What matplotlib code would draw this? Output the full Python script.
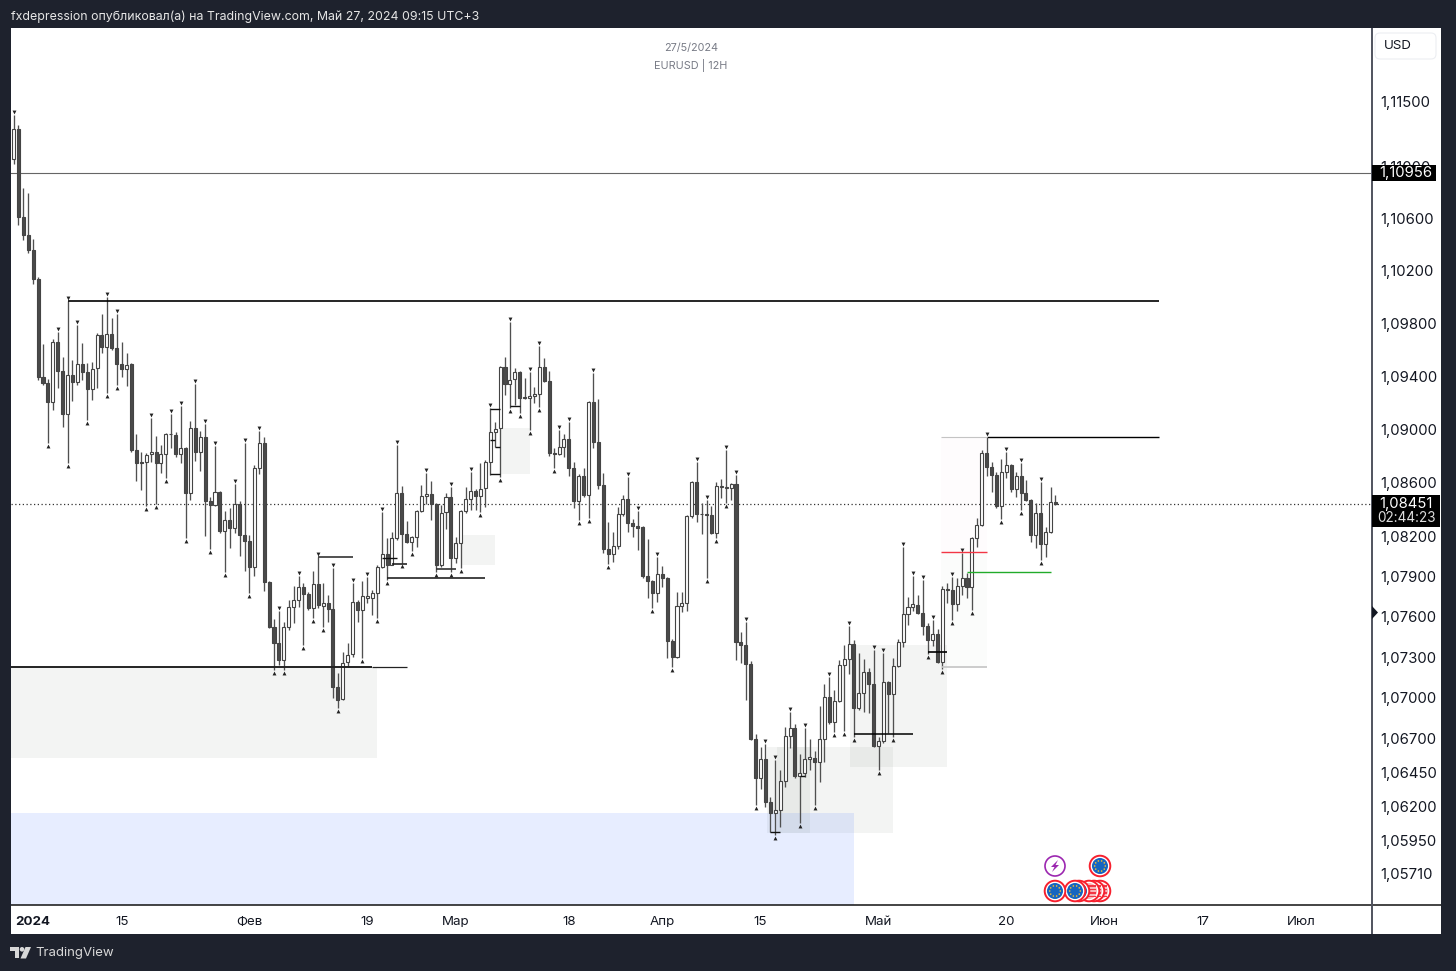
import numpy as np
import matplotlib
matplotlib.use("Agg")
import matplotlib.pyplot as plt
from matplotlib.patches import Rectangle, Circle, Polygon, FancyBboxPatch
from matplotlib.lines import Line2D
from matplotlib.transforms import Affine2D, offset_copy
from matplotlib.ticker import NullFormatter, NullLocator

plt.rcParams['font.family'] = ['Inter', 'DejaVu Sans']

# ---- data: prices in points (1e-5) ----
opens = [111054,111285,110611,110473,110358,110138,109395,109349,109206,109660,
109440,109116,109410,109357,109493,109433,109304,109463,109713,109622,
109720,109614,109493,109455,109493,108844,108754,108754,108814,108829,
108747,108814,108965,108957,108814,108859,108522,109010,108829,108942,
108462,108432,108529,108237,108319,108260,108439,108207,108162,107968,
108709,108897,107856,107522,107403,107277,107522,107670,107722,107819,
107767,107663,107841,107678,107700,107655,107077,106988,107262,107321,
107707,107648,107737,107737,107775,107968,108065,107983,108185,108522,
108215,108155,108192,108387,108499,108514,108439,107983,108379,108492,
108035,108147,108387,108477,108537,108499,108559,108754,108980,109010,
109470,109342,109380,109433,109243,109236,109251,109266,109470,109364,
108822,108814,108866,108927,108709,108462,108649,108507,109206,108904,
108582,108102,108065,108125,108364,108477,108297,108275,108267,107901,
107864,107775,107916,107886,107418,107299,107678,107700,108349,108604,
108367,108362,108357,108222,108567,108559,108559,108589,107410,107388,
107247,106693,106406,106545,106229,106149,106171,106384,106716,106775,
106421,106443,106545,106553,106524,106693,107003,106818,106974,107240,
107284,107396,106922,107033,107188,107099,106642,106679,107114,107025,
107233,107410,107618,107670,107685,107626,107530,107425,107470,107262,
107804,107797,107692,107827,107886,107819,108185,108282,108822,108717,
108657,108424,108679,108732,108552,108649,108522,108469,108207,108372,
108140,108230,108454]
closes = [111285,110611,110473,110358,110138,109395,109349,109206,109660,109440,
109116,109410,109357,109493,109433,109304,109455,109713,109622,109720,
109614,109493,109455,109485,108844,108747,108747,108807,108829,108747,
108814,108965,108968,108814,108859,108522,109010,108829,108942,108462,
108432,108529,108237,108319,108260,108439,108207,108162,107968,108709,
108897,107856,107522,107403,107277,107522,107670,107722,107819,107767,
107663,107841,107685,107700,107655,107077,106981,107255,107314,107707,
107648,107752,107752,107775,107968,108065,107983,108185,108522,108215,
108155,108192,108387,108499,108514,108439,107983,108372,108492,108035,
108147,108387,108477,108537,108499,108552,108754,108980,109003,109470,
109342,109372,109433,109236,109236,109251,109266,109470,109364,108822,
108814,108866,108927,108709,108462,108649,108507,109206,108904,108582,
108102,108065,108125,108364,108477,108297,108275,108260,107901,107864,
107775,107916,107886,107418,107299,107678,107700,108349,108604,108364,
108362,108357,108222,108574,108574,108567,108589,107410,107388,107247,
106693,106406,106545,106229,106149,106171,106384,106716,106775,106421,
106443,106545,106560,106524,106693,107003,106818,106974,107240,107284,
107396,106922,107033,107188,107099,106642,106679,107114,107025,107233,
107410,107618,107670,107692,107626,107530,107425,107470,107262,107804,
107797,107692,107827,107886,107819,108185,108282,108822,108717,108657,
108424,108679,108732,108552,108649,108522,108469,108207,108372,108140,
108230,108454,108439]
highs = [111392,111316,110832,110794,110442,110153,109645,109380,109683,109736,
109546,109970,109523,109788,109652,109500,109508,109728,109872,110001,
109841,109872,109660,109576,109500,108965,108829,108822,109085,108950,
108882,108972,109116,108980,109176,108866,109063,109342,108987,109040,
108492,108874,108537,108387,108409,108589,108462,108897,108207,108732,
108987,108942,107864,107581,107641,107559,107722,107827,107901,107849,
107782,107938,108043,107849,107759,107961,107181,107336,107403,107849,
107722,107864,107893,107797,107983,108379,108185,108230,108882,108574,
108312,108200,108394,108582,108672,108612,108447,108432,108522,108567,
108192,108394,108567,108679,108552,108747,108769,109161,109055,109478,
109546,109811,109463,109440,109387,109433,109319,109629,109538,109440,
108859,108995,108965,109055,108754,108664,108709,109213,109425,109229,
108672,108304,108230,108417,108507,108642,108327,108387,108275,108177,
107871,108043,107976,107893,107433,107782,107782,108357,108612,108754,
108447,108469,108424,108604,108627,108844,108597,108657,107485,107559,
107270,106730,106634,106656,106266,106538,106465,106782,106892,106804,
106583,106775,106693,106605,106936,107099,107151,107055,107277,107388,
107530,107425,107329,107284,107218,107351,106708,107329,107122,107292,
107433,108117,107745,107901,107759,107871,107552,107574,107507,107827,
107849,107893,107886,108073,107923,108192,108334,108844,108942,108754,
108679,108777,108829,108739,108679,108747,108619,108477,108447,108604,
108267,108567,108507]
lows = [111015,110549,110434,110335,110100,109372,109334,108896,109146,109312,
109018,108747,109213,109334,109372,109070,109221,109312,109576,109274,
109599,109334,109395,109327,108829,108612,108544,108424,108754,108439,
108672,108634,108859,108792,108747,108185,108469,108762,108687,108200,
108102,108424,108222,107931,108110,108222,108050,107939,107775,107901,
108664,107790,107515,107203,107240,107203,107500,107552,107670,107388,
107648,107589,107663,107522,107559,106996,106922,106981,107225,107299,
107559,107292,107700,107611,107589,107961,107871,107983,108170,107998,
108147,108088,108117,108379,108439,108319,107931,107968,108252,107931,
107998,107961,108372,108394,108394,108379,108417,108657,108866,108642,
109259,109161,109183,109123,109229,108995,109198,109168,109357,108799,
108709,108807,108792,108649,108409,108319,108492,108334,108859,108552,
108073,107991,108005,108102,108349,108230,108192,108095,107886,107737,
107663,107707,107819,107292,107225,107292,107633,107641,108334,108304,
108215,107886,108215,108185,108484,108447,108469,107277,107255,106981,
106686,106207,106325,106193,106009,105987,106046,106340,106627,106406,
106076,106414,106465,106207,106377,106524,106804,106745,106966,106752,
107173,106708,106907,106892,106885,106634,106465,106664,106738,106708,
107225,107373,107537,107641,107618,107463,107321,107381,107255,107210,
107700,107574,107641,107759,107737,107648,108117,108275,108649,108529,
108409,108327,108634,108529,108492,108394,108462,108155,108110,108020,
108043,108222,108432]

pivot_high_bars = [0,9,11,13,19,21,28,32,34,37,39,41,45,47,50,54,58,62,65,69,72,75,78,84,89,93,97,101,105,
    107,111,113,118,125,127,131,139,141,145,147,149,153,155,158,161,166,170,175,177,181,183,185,187,191,193,198,202,205,209]
pivot_low_bars = [7,11,15,19,21,27,29,31,35,40,43,48,53,55,59,61,63,66,71,74,76,79,81,86,89,91,95,99,101,103,105,107,110,
    115,117,121,130,134,141,143,145,151,155,160,163,167,169,171,176,179,186,189,191,195,201,205,209]

y_ticks = [1.115,1.110,1.106,1.102,1.098,1.094,1.090,1.086,1.082,1.079,1.076,1.073,1.070,1.067,1.0645,1.062,1.0595,1.0571]
x_tick_bars = [4,22,48,72,90,113,132,152,176,202,222,242,262]
x_tick_labels = ['2024','15','Фев','19','Мар','18','Апр','15','Май','20','Июн','17','Июл']

# level lines: (start bar, end bar, price, colour, width)
levels = [
    (-0.5, 72.9, 1.07225, '#222222', 1.4), (72.9, 80.0, 1.07225, '#222222', 0.9),
    (11, 233, 1.09974, '#000000', 1.2), (198, 233, 1.08942, '#000000', 1.0),
    (188.8, 198, 1.08942, '#c4c4c4', 0.8), (62, 69, 1.08043, '#333333', 1.2),
    (76, 96, 1.07887, '#222222', 1.2), (75, 78, 1.08035, '#111111', 1.0),
    (77, 80, 1.07988, '#111111', 1.1), (86, 90, 1.07955, '#333333', 1.2),
    (97, 99, 1.09153, '#111111', 1.0), (97, 99, 1.08664, '#111111', 1.0),
    (98, 99, 1.08866, '#111111', 1.0), (97, 98, 1.08919, '#111111', 1.0),
    (101, 103, 1.09178, '#111111', 1.0), (154, 156, 1.06009, '#111111', 1.0),
    (171, 183, 1.06730, '#000000', 1.1), (186, 190, 1.07338, '#000000', 1.2),
    (160, 161, 1.06424, '#111111', 1.0), (188.8, 198, 1.08082, '#f23645', 1.0),
    (194, 211, 1.07934, '#22ab2a', 1.0), (189, 198, 1.07225, '#c4c4c4', 1.2),
]
# zones: (start bar, end bar, low, high, colour, alpha)
zones = [
    (-0.5, 74, 1.06553, 1.07225, '#5f6b5f', 0.07),
    (99, 105, 1.08664, 1.09010, '#5f6b5f', 0.07),
    (91.3, 98, 1.07983, 1.08207, '#5f6b5f', 0.07),
    (153.3, 162, 1.06002, 1.06634, '#5f6b5f', 0.07),
    (155.3, 179, 1.06002, 1.06634, '#5f6b5f', 0.07),
    (170.2, 190, 1.06487, 1.07388, '#5f6b5f', 0.07),
    (188.8, 198, 1.08082, 1.08942, '#e8b0d0', 0.03),
    (188.8, 198, 1.07225, 1.08082, '#5f6b5f', 0.02),
    (-0.5, 171, 1.05478, 1.06149, '#2962ff', 0.11),
]
last_prices = (1.08440, 1.10945)

W, H = 1456, 971
BG = '#1e222d'
fig = plt.figure(figsize=(W/100, H/100), dpi=100, facecolor=BG)
T = Affine2D().scale(1/W, -1/H).translate(0, 1) + fig.transFigure

ax = fig.add_axes([11/W, (H-905)/H, 1360/W, 877/H], facecolor='white')
ax.set_yscale('log')
ax.set_ylim(1.05478, 1.12064)
ax.set_xlim(-0.51, 276.2)
for s in ax.spines.values():
    s.set_visible(False)

O, Hi, Lo, C = [np.array(a)/1e5 for a in (opens, highs, lows, closes)]
bars = np.arange(len(O))

for x0, x1, lo, hi, col, al in zones:
    ax.add_patch(Rectangle((x0, lo), x1-x0, hi-lo, facecolor=col, alpha=al, lw=0, zorder=1))

ax.axhline(last_prices[1], color='#666666', lw=0.8, zorder=2)
ax.axhline(last_prices[0], color='#333333', lw=0.9, ls=(0, (1, 2)), zorder=2)

ax.vlines(bars, Lo, Hi, color='#505050', lw=0.95, zorder=3)
up = C >= O
for mask, face in ((up, 'white'), (~up, '#4a4a4a')):
    ax.bar(bars[mask], np.abs(C-O)[mask], bottom=np.minimum(O, C)[mask], width=0.62,
           facecolor=face, edgecolor='#444444', lw=0.8, zorder=4)

up_off = offset_copy(ax.transData, fig=fig, y=3, units='dots')
dn_off = offset_copy(ax.transData, fig=fig, y=-3, units='dots')
ax.plot(bars[pivot_high_bars], Hi[pivot_high_bars], ls='', marker='v', ms=2.8, mfc='#222222', mec='none',
        transform=up_off, zorder=5)
ax.plot(bars[pivot_low_bars], Lo[pivot_low_bars], ls='', marker='^', ms=2.8, mfc='#222222', mec='none',
        transform=dn_off, zorder=5)

for x0, x1, p, col, lw in levels:
    ax.plot([x0, x1], [p, p], color=col, lw=lw, solid_capstyle='butt', zorder=5)

ax.yaxis.tick_right()
ax.set_yticks(y_ticks)
ax.set_yticklabels([f"{v:.5f}".replace('.', ',') for v in y_ticks], fontsize=10.7, color='#131722')
ax.yaxis.set_minor_locator(NullLocator())
ax.yaxis.set_minor_formatter(NullFormatter())
ax.tick_params(axis='y', length=0, pad=7)
ax.set_xticks(x_tick_bars)
ax.set_xticklabels(x_tick_labels, fontsize=9.6, color='#131722')
ax.tick_params(axis='x', length=0, pad=8.2)
ax.get_xticklabels()[0].set_fontweight('bold')

ax.text(0.5, 1-20/877, '27/5/2024', transform=ax.transAxes, ha='center', va='center', fontsize=7.8, color='#787b86')
ax.text(0.5, 1-38/877, 'EURUSD | 12H', transform=ax.transAxes, ha='center', va='center', fontsize=7.8, color='#787b86')

def frect(x0, y0, x1, y1, col, z=-1):
    fig.add_artist(Rectangle((x0, y0), x1-x0, y1-y0, facecolor=col, lw=0, transform=T, zorder=z))
def fline(xs, ys, col, lw, z=2):
    fig.add_artist(Line2D(xs, ys, color=col, lw=lw, transform=T, zorder=z, solid_capstyle='butt'))

frect(1371, 28, 1441, 934, 'white')
frect(11, 905, 1371, 934, 'white')
fline([11, 1441], [905.5, 905.5], '#111111', 1.1)
fline([1371.5, 1371.5], [28, 934], '#50535e', 1.4)

# USD box
fig.add_artist(FancyBboxPatch((1375, 33), 61, 26, boxstyle='round,pad=0,rounding_size=5',
                              facecolor='white', edgecolor='#eceef2', lw=0.8, transform=T, zorder=3))
fig.text(1384/W, 1-46/H, 'USD', fontsize=9.6, color='#131722', va='center', ha='left', zorder=4)

# price tags
frect(1372, 165, 1436, 181, '#000000', 5)
fig.text(1406/W, 1-173/H, '1,10956', fontsize=10.7, color='white', va='center', ha='center', zorder=6)
frect(1372, 495, 1440, 527, '#000000', 5)
fig.text(1406/W, 1-504/H, '1,08451', fontsize=10.7, color='white', va='center', ha='center', zorder=6)
fig.text(1407/W, 1-518.5/H, '02:44:23', fontsize=9.8, color='#dddddd', va='center', ha='center', zorder=6)
fig.add_artist(Polygon([[1372, 606], [1372, 619], [1378, 612.5]], closed=True, facecolor='#131722', lw=0, transform=T, zorder=5))

# header and footer
fig.text(11/W, 1-16.5/H, 'fxdepression опубликовал(а) на TradingView.com, Май 27, 2024 09:15 UTC+3',
         fontsize=8.9, color='#e6e6e6', va='center', ha='left')
fig.text(35/W, 1-953/H, 'TradingView', fontsize=9.5, color='#d8d8d8', va='center', ha='left')
for poly in ([[10, 947], [19, 947], [19, 958.5], [14.5, 958.5], [14.5, 951.5], [10, 951.5]],
             [[25.5, 947], [31, 947], [26, 958.5], [20.5, 958.5]]):
    fig.add_artist(Polygon(poly, closed=True, facecolor='#d8d8d8', lw=0, transform=T, zorder=3))
fig.add_artist(Circle((22, 949.3), 2.3, facecolor='#d8d8d8', lw=0, transform=T, zorder=3))

# economic-event badges
def badge(cx, cy, kind, z):
    if kind == 'bolt':
        fig.add_artist(Circle((cx, cy), 10, facecolor='white', edgecolor='#9c27b0', lw=1.2, transform=T, zorder=z))
        fig.add_artist(Polygon([[cx+3, cy-6], [cx-4, cy+1], [cx-0.5, cy+1], [cx-3, cy+6], [cx+4, cy-1], [cx+0.5, cy-1]],
                               closed=True, facecolor='#9c27b0', lw=0, transform=T, zorder=z+0.1))
        return
    fig.add_artist(Circle((cx, cy), 10.3, facecolor='white', edgecolor='#f7202e', lw=1.4, transform=T, zorder=z))
    if kind == 'eu':
        fig.add_artist(Circle((cx, cy), 8, facecolor='#1565c0', lw=0, transform=T, zorder=z+0.1))
        for a in np.arange(0, 360, 36):
            fig.add_artist(Circle((cx+5.3*np.cos(np.radians(a)), cy+5.3*np.sin(np.radians(a))), 0.8,
                                  facecolor='#fbc02d', lw=0, transform=T, zorder=z+0.2))
    else:
        fig.add_artist(Circle((cx, cy), 8, facecolor='#f8b4b8', lw=0, transform=T, zorder=z+0.1))
        for dy in (-5, -1.5, 2, 5.5):
            fig.add_artist(Rectangle((cx-6.5, cy+dy-0.9), 13, 1.8, facecolor='#f23645', lw=0, transform=T, zorder=z+0.2))

badge(1055, 866, 'bolt', 7)
badge(1100, 866, 'eu', 7)
badge(1100, 891, 'us', 7)
badge(1094, 891, 'us', 8)
badge(1089, 891, 'us', 9)
badge(1079, 891, 'eu', 10)
badge(1075, 891, 'eu', 11)
badge(1055, 891, 'eu', 12)

fig.savefig('out.png', dpi=100, facecolor=BG)
